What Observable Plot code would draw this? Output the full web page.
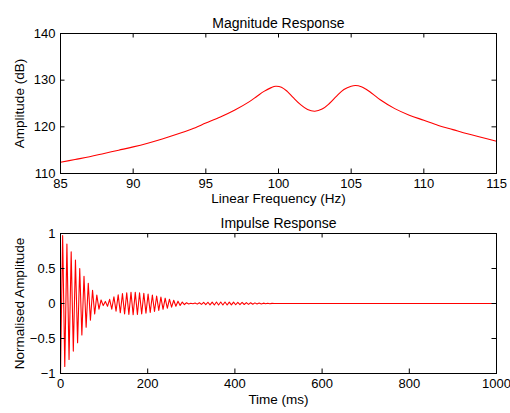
<!DOCTYPE html>
<html>
<head>
<meta charset="utf-8">
<script src="https://cdn.jsdelivr.net/npm/d3@7"></script>
<script src="https://cdn.jsdelivr.net/npm/@observablehq/plot@0.6"></script>
<style>
  html, body { margin: 0; padding: 0; background: #fff; }
  svg { display: block; }
</style>
</head>
<body>
<div id="top"></div>
<div id="bottom"></div>
<script>
// ---- Magnitude response ----
const freqHz = [85, 86, 87, 88, 89, 90, 91, 92, 93, 94, 95, 96, 97, 98, 98.5, 99, 99.5, 99.8, 100.2, 100.6, 101, 101.5, 102, 102.5, 103, 103.5, 104, 104.5, 105, 105.3, 105.7, 106, 106.5, 107, 108, 109, 110, 111, 112, 113, 114, 115];
const amplitudeDb = [112.4, 113.0, 113.6, 114.3, 115.0, 115.7, 116.5, 117.4, 118.4, 119.5, 120.8, 122.1, 123.6, 125.4, 126.5, 127.6, 128.4, 128.7, 128.5, 127.6, 126.3, 124.8, 123.7, 123.35, 123.8, 125.0, 126.6, 128.0, 128.7, 128.85, 128.6, 128.1, 127.0, 125.8, 123.9, 122.5, 121.4, 120.3, 119.4, 118.5, 117.7, 116.9];

// ---- Impulse response extrema ----
const impulseTimeMs = [0, 4.9, 9.8, 14.7, 19.6, 24.5, 29.4, 34.3, 39.2, 44.1, 49.0, 53.9, 58.8, 63.7, 68.6, 73.5, 78.4, 83.3, 88.2, 93.1, 98.0,
  102.9, 107.8, 112.7, 117.6, 122.5, 127.4, 132.3, 137.2, 142.1, 147.0, 151.9, 156.8, 161.7, 166.6, 171.5, 176.4, 181.3, 186.2, 191.1, 196.0,
  200.9, 205.8, 210.7, 215.6, 220.5, 225.4, 230.3, 235.2, 240.1, 245.0, 249.9, 254.8, 259.7, 264.6, 269.5, 274.4, 279.3, 284.2, 289.1, 294.0,
  298.9, 303.8, 308.7, 313.6, 318.5, 323.4, 328.3, 333.2, 338.1, 343.0, 347.9, 352.8, 357.7, 362.6, 367.5, 372.4, 377.3, 382.2, 387.1, 392.0,
  396.9, 401.8, 406.7, 411.6, 416.5, 421.4, 426.3, 431.2, 436.1, 441.0, 445.9, 450.8, 455.7, 460.6, 465.5, 470.4, 475.3, 480.2, 485.1, 490.0, 1000];
const impulseValue = [-1.00, 0.97, -0.90, 0.85, -0.80, 0.74, -0.68, 0.62, -0.56, 0.50, -0.45, 0.39, -0.34, 0.29, -0.24, 0.19, -0.15, 0.12, -0.08, 0.05, -0.03,
  0.03, -0.04, 0.06, -0.08, 0.096, -0.11, 0.123, -0.133, 0.141, -0.148, 0.153, -0.157, 0.159, -0.160, 0.159, -0.157, 0.154, -0.150, 0.146, -0.140,
  0.134, -0.128, 0.121, -0.114, 0.107, -0.099, 0.091, -0.083, 0.076, -0.068, 0.061, -0.053, 0.046, -0.040, 0.033, -0.027, 0.021, -0.015, 0.010, -0.006,
  0.003, -0.003, 0.006, -0.009, 0.011, -0.013, 0.015, -0.017, 0.018, -0.019, 0.020, -0.021, 0.021, -0.021, 0.021, -0.021, 0.021, -0.021, 0.020, -0.020,
  0.019, -0.018, 0.017, -0.016, 0.015, -0.014, 0.013, -0.012, 0.011, -0.010, 0.009, -0.008, 0.007, -0.006, 0.005, -0.004, 0.004, -0.003, 0.002, -0.001, 0];

// ---- Axis ticks and labels ----
const magXTicks = [85, 90, 95, 100, 105, 110, 115];
const magYTicks = [110, 120, 130, 140];
const impXTicks = [0, 200, 400, 600, 800, 1000];
const impYTicks = [-1, -0.5, 0, 0.5, 1];
const titles = ["Magnitude Response", "Impulse Response"];
const xLabels = ["Linear Frequency (Hz)", "Time (ms)"];
const yLabels = ["Amplitude (dB)", "Normalised Amplitude"];

const magData = freqHz.map((f, i) => ({f, a: amplitudeDb[i]}));
const impData = impulseTimeMs.map((t, i) => ({t, v: impulseValue[i]}));

const FONT = "Liberation Sans, Arial, Helvetica, sans-serif";
const TICK = 4.5;
const fmt = d => String(d).replace("-", "\u2212");

function panel({data, x, y, xDomain, yDomain, xTicks, yTicks, title, xLabel, yLabel, height, marginTop, marginBottom, curve, xLabelDy}) {
  const frameH = height - marginTop - marginBottom;
  return Plot.plot({
    width: 510,
    height,
    marginTop,
    marginBottom,
    marginLeft: 60,
    marginRight: 14,
    style: {fontFamily: FONT, fontSize: "13px", color: "#000", background: "#fff"},
    x: {domain: xDomain},
    y: {domain: yDomain},
    marks: [
      Plot.line(data, {x, y, stroke: "#ff0000", strokeWidth: 1.1, curve}),
      // inward ticks on all four sides
      Plot.tickX(xTicks, {x: d => d, insetTop: frameH - TICK, stroke: "#000"}),
      Plot.tickX(xTicks, {x: d => d, insetBottom: frameH - TICK, stroke: "#000"}),
      Plot.tickY(yTicks, {y: d => d, insetRight: 436 - TICK, stroke: "#000"}),
      Plot.tickY(yTicks, {y: d => d, insetLeft: 436 - TICK, stroke: "#000"}),
      Plot.frame({stroke: "#000", strokeWidth: 1}),
      Plot.axisX(xTicks, {tickSize: 0, tickPadding: 5, fontSize: 13, label: null, tickFormat: fmt}),
      Plot.axisY(yTicks, {tickSize: 0, tickPadding: 5, fontSize: 13, label: null, tickFormat: fmt}),
      Plot.text([title], {frameAnchor: "top", dy: -15, fontSize: 14, fill: "#000"}),
      Plot.text([xLabel], {frameAnchor: "bottom", dy: xLabelDy, fontSize: 13.5, fill: "#000"}),
      Plot.text([yLabel], {frameAnchor: "left", textAnchor: "middle", dx: -41, rotate: -90, fontSize: 13.5, fill: "#000"})
    ]
  });
}

document.getElementById("top").append(panel({
  data: magData, x: "f", y: "a", curve: "catmull-rom",
  xDomain: [85, 115], yDomain: [110, 140],
  xTicks: magXTicks, yTicks: magYTicks,
  title: titles[0], xLabel: xLabels[0], yLabel: yLabels[0],
  height: 207, marginTop: 33, marginBottom: 34, xLabelDy: 29
}));

document.getElementById("bottom").append(panel({
  data: impData, x: "t", y: "v", curve: "linear",
  xDomain: [0, 1000], yDomain: [-1, 1],
  xTicks: impXTicks, yTicks: impYTicks,
  title: titles[1], xLabel: xLabels[1], yLabel: yLabels[1],
  height: 206, marginTop: 26, marginBottom: 40, xLabelDy: 30
}));
</script>
</body>
</html>
